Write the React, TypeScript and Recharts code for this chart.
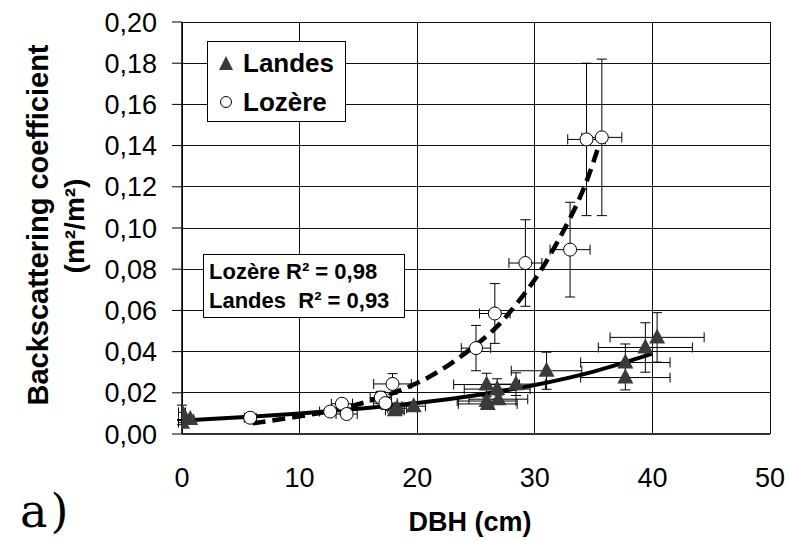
import React from "react";
import {
  ComposedChart,
  Scatter,
  Line,
  XAxis,
  YAxis,
  CartesianGrid,
  ErrorBar,
} from "recharts";

// Lozère measurements (open circles)
const lozereX = [5.8, 12.6, 13.6, 14.0, 16.9, 17.3, 17.9, 25.0, 26.6, 29.2, 33.0, 34.4, 35.7];
const lozereY = [0.0079, 0.0109, 0.0147, 0.0097, 0.0177, 0.015, 0.0243, 0.0417, 0.0585, 0.083, 0.0895, 0.143, 0.144];
const lozereEx = [0.5, 0.9, 0.9, 0.9, 0.9, 1.0, 1.6, 1.25, 1.3, 1.4, 1.7, 1.6, 1.7];
const lozereEy = [0.001, 0.002, 0.002, 0.002, 0.003, 0.003, 0.005, 0.011, 0.0145, 0.021, 0.023, 0.037, 0.038];

// Landes measurements (filled triangles)
const landesX = [0.0, 0.0, 0.7, 18.1, 18.3, 19.7, 25.9, 26.8, 28.4, 25.9, 26.9, 26.0, 31.0, 37.7, 37.7, 39.4, 40.4];
const landesY = [0.0105, 0.0055, 0.0073, 0.0115, 0.0125, 0.0135, 0.024, 0.0218, 0.0242, 0.016, 0.0169, 0.0146, 0.0307, 0.0347, 0.0274, 0.042, 0.0469];
const landesEx = [0.3, 0.3, 0.3, 0.8, 0.8, 1.0, 2.8, 2.8, 2.5, 2.5, 2.5, 2.5, 3.0, 3.8, 3.8, 4.0, 4.0];
const landesEy = [0.0035, 0.001, 0.001, 0.001, 0.001, 0.002, 0.0055, 0.005, 0.0055, 0.002, 0.002, 0.001, 0.009, 0.009, 0.006, 0.012, 0.012];

// trend curves
const lozereTrendX = [6, 10, 14, 18, 22, 26, 28, 30, 32, 34, 35.5];
const lozereTrendY = [0.0052, 0.0086, 0.013, 0.02, 0.031, 0.048, 0.06, 0.075, 0.094, 0.117, 0.141];
const landesTrendX = [0, 5, 10, 15, 20, 25, 30, 35, 40];
const landesTrendY = [0.0065, 0.0081, 0.0099, 0.0122, 0.015, 0.0188, 0.0238, 0.0303, 0.039];

const xTicks = [0, 10, 20, 30, 40, 50];
const yTicks = [0, 0.02, 0.04, 0.06, 0.08, 0.1, 0.12, 0.14, 0.16, 0.18, 0.2];

const lozere = lozereX.map((x, i) => ({ x, y: lozereY[i], ex: lozereEx[i], ey: lozereEy[i] }));
const landes = landesX.map((x, i) => ({ x, y: landesY[i], ex: landesEx[i], ey: landesEy[i] }));
const lozereTrend = lozereTrendX.map((x, i) => ({ x, y: lozereTrendY[i] }));
const landesTrend = landesTrendX.map((x, i) => ({ x, y: landesTrendY[i] }));

const FONT = "'Liberation Sans', Arial, sans-serif";

const Triangle = (p: any) => (
  <polygon
    points={`${p.cx},${p.cy - 9} ${p.cx - 8},${p.cy + 6} ${p.cx + 8},${p.cy + 6}`}
    fill="#3a3a3a"
  />
);

const Circle = (p: any) => (
  <circle cx={p.cx} cy={p.cy} r={6.5} fill="#fff" stroke="#000" strokeWidth={1} />
);

export default function App() {
  return (
    <div
      style={{
        position: "absolute",
        left: 0,
        top: 0,
        width: 791,
        height: 541,
        background: "#fff",
        fontFamily: FONT,
      }}
    >
      <ComposedChart
        width={791}
        height={541}
        margin={{ top: 22, right: 21, left: 0, bottom: 0 }}
      >
        <CartesianGrid stroke="#111" strokeWidth={1} shapeRendering="crispEdges" />
        <XAxis
          type="number"
          dataKey="x"
          domain={[0, 50]}
          ticks={xTicks}
          height={107}
          tickSize={0}
          tickMargin={34}
          axisLine={{ stroke: "#333", strokeWidth: 2 }}
          tick={{ fontSize: 27, fill: "#000", fontFamily: FONT }}
          allowDataOverflow
        />
        <YAxis
          type="number"
          dataKey="y"
          domain={[0, 0.2]}
          ticks={yTicks}
          width={182}
          tickSize={10}
          tickMargin={15}
          axisLine={{ stroke: "#000", strokeWidth: 1.5 }}
          tickLine={{ stroke: "#000" }}
          tick={{ fontSize: 27, fill: "#000", fontFamily: FONT }}
          tickFormatter={(v: number) => v.toFixed(2).replace(".", ",")}
          allowDataOverflow
        />
        <Scatter data={landes} dataKey="y" shape={Triangle} isAnimationActive={false}>
          <ErrorBar dataKey="ey" direction="y" width={5} stroke="#000" strokeWidth={1} />
          <ErrorBar dataKey="ex" direction="x" width={5} stroke="#000" strokeWidth={1} />
        </Scatter>
        <Scatter data={lozere} dataKey="y" shape={Circle} isAnimationActive={false}>
          <ErrorBar dataKey="ey" direction="y" width={5} stroke="#000" strokeWidth={1} />
          <ErrorBar dataKey="ex" direction="x" width={5} stroke="#000" strokeWidth={1} />
        </Scatter>
        <Line
          data={landesTrend}
          dataKey="y"
          type="natural"
          stroke="#000"
          strokeWidth={4}
          dot={false}
          activeDot={false}
          isAnimationActive={false}
        />
        <Line
          data={lozereTrend}
          dataKey="y"
          type="natural"
          stroke="#000"
          strokeWidth={4.5}
          strokeDasharray="13 7"
          dot={false}
          activeDot={false}
          isAnimationActive={false}
        />
      </ComposedChart>

      {/* y axis title */}
      <div
        style={{
          position: "absolute",
          left: 38,
          top: 225,
          transform: "translate(-50%, -50%) rotate(-90deg)",
          whiteSpace: "nowrap",
          fontWeight: "bold",
          fontSize: 29,
          lineHeight: 1,
        }}
      >
        Backscattering coefficient
      </div>
      <div
        style={{
          position: "absolute",
          left: 75,
          top: 226,
          transform: "translate(-50%, -50%) rotate(-90deg)",
          whiteSpace: "nowrap",
          fontWeight: "bold",
          fontSize: 28,
          lineHeight: 1,
        }}
      >
        (m²/m²)
      </div>

      {/* x axis title */}
      <div
        style={{
          position: "absolute",
          left: 470,
          top: 522,
          transform: "translate(-50%, -50%)",
          whiteSpace: "nowrap",
          fontWeight: "bold",
          fontSize: 27,
          lineHeight: 1,
        }}
      >
        DBH (cm)
      </div>

      <div
        style={{
          position: "absolute",
          left: 20,
          top: 488,
          fontFamily: "'DejaVu Serif', 'Liberation Serif', serif",
          fontSize: 46,
          letterSpacing: 3,
          lineHeight: 1,
        }}
      >
        a)
      </div>

      {/* legend */}
      <div
        style={{
          position: "absolute",
          left: 207,
          top: 41,
          width: 137,
          height: 79,
          border: "1px solid #000",
          background: "#fff",
          fontWeight: "bold",
          fontSize: 26,
          lineHeight: 1,
        }}
      >
        <div style={{ position: "absolute", left: 10, top: 8, display: "flex", alignItems: "center" }}>
          <svg width={16} height={16} style={{ marginRight: 9 }}>
            <polygon points="8,1 1,15 15,15" fill="#3a3a3a" />
          </svg>
          Landes
        </div>
        <div style={{ position: "absolute", left: 10, top: 47, display: "flex", alignItems: "center" }}>
          <svg width={16} height={16} style={{ marginRight: 9 }}>
            <circle cx={8} cy={8} r={5.5} fill="#fff" stroke="#000" strokeWidth={1} />
          </svg>
          Lozère
        </div>
      </div>

      {/* R² box */}
      <div
        style={{
          position: "absolute",
          left: 203,
          top: 254,
          width: 195,
          height: 60,
          border: "1px solid #000",
          background: "#fff",
          fontWeight: "bold",
          fontSize: 22,
          lineHeight: "29px",
          paddingLeft: 5,
          paddingTop: 2,
          boxSizing: "content-box",
          whiteSpace: "pre",
        }}
      >
        <div>Lozère R² = 0,98</div>
        <div>Landes  R² = 0,93</div>
      </div>
    </div>
  );
}
